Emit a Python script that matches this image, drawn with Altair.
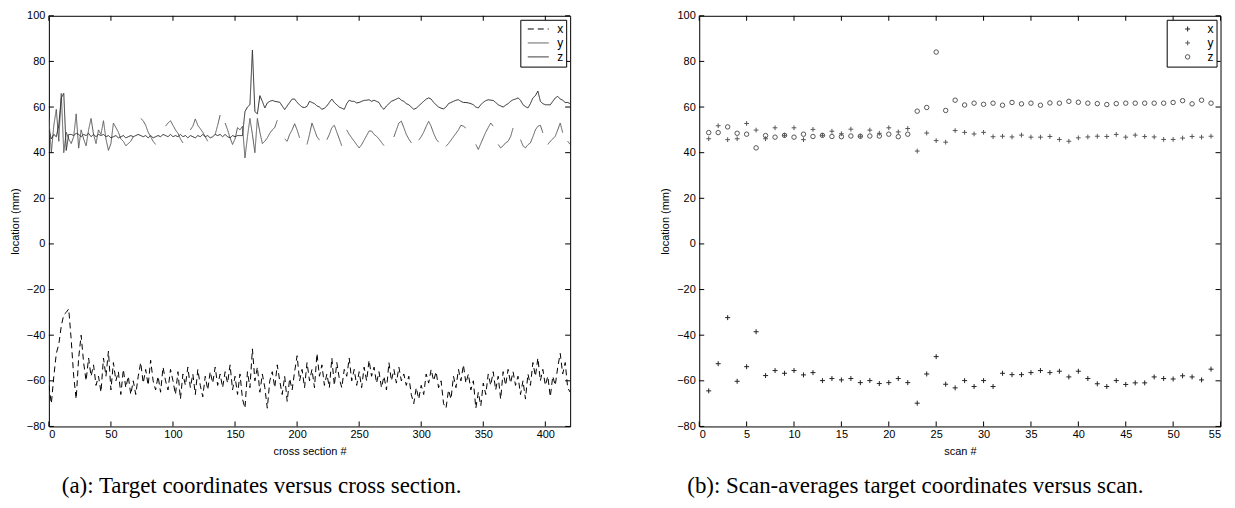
import altair as alt
import pandas as pd

# ---------------- data: panel (a), every 2nd cross section ----------------
CS = list(range(0, 421, 2))

X_CS = [
    -62, -70, -58, -48, -44, -36, -31, -30, -28.5, -42,
    -58, -68, -50, -40, -52, -60, -50, -58, -53, -62,
    -58, -65, -50, -58, -47, -64, -52, -60, -56, -66,
    -55, -63, -58, -66, -60, -66, -58, -52, -61, -55,
    -62, -51, -60, -64, -58, -65, -54, -60, -64, -55,
    -60, -66, -56, -68, -57, -62, -54, -63, -57, -66,
    -55, -62, -67, -58, -64, -56, -61, -54, -62, -57,
    -63, -56, -61, -53, -64, -58, -66, -57, -68, -72,
    -56, -63, -46, -60, -54, -65, -57, -63, -72, -60,
    -56, -63, -53, -60, -66, -58, -69, -59, -64, -56,
    -49, -60, -55, -63, -52, -60, -55, -63, -48, -58,
    -53, -62, -57, -63, -50, -62, -52, -59, -63, -55,
    -58, -50, -60, -55, -62, -56, -63, -54, -60, -51,
    -58, -54, -61, -56, -63, -58, -64, -52, -60, -55,
    -61, -54, -60, -57, -62, -58, -66, -70, -63, -68,
    -62, -66, -57, -61, -55, -60, -56, -63, -60, -70,
    -72, -64, -68, -58, -63, -55, -60, -53, -61, -57,
    -64, -60, -72, -65, -71, -61, -66, -57, -62, -56,
    -64, -58, -68, -56, -62, -55, -61, -56, -62, -58,
    -66, -60, -68, -57, -62, -52, -58, -50, -60, -55,
    -62, -58, -67, -58, -62, -54, -48, -57, -52, -63,
    -65,
]

Y_CS = [
    55, 40, 52, 59, 45, 66, 40, 49, 46, 44,
    47, 57, 42, 50, 46, 43, 50, 55, 48, 44,
    50, 48, 54, 46, 41, 44, 53, 51, 49, 46,
    45, 43, 44, 45, 47, None, None, 55, 54, 52,
    49, 47, 45, 43.6, None, None, None, 51.6, 53, 54,
    52, 50, 48.5, 46, 44.3, None, None, 50, 51.6, 54.8,
    52, 50.5, 49, 47, 45, None, None, 48, 52, 56.5,
    None, 53, 50, 46.5, 43.6, 46, 51, 50, 51.6, 37.7,
    47, 55, 48, 40, 55, 49, 44, 45, 46.5, 48.5,
    50, 51, 54.2, None, None, 46, 45, 48, 50, 52.7,
    50, 46.5, None, None, 43.6, 48, 53, 50, 47, 45.5,
    None, None, 45.7, 48, 51, 52, 49, 46, 43, None,
    50, 48, 46.5, 45, 43.5, 42.1, 43.5, 45.5, 47.5, 49.5,
    49.5, 48, 47.2, 46, 44.5, 43.1, None, None, None, 46.9,
    50, 53, 53.8, 51, 48, 46, 44.3, None, None, 45.5,
    47, 49, 51.5, 53.8, 51.5, 48.5, 46, 44.6, None, None,
    42.8, 44, 45.5, 47, 48.5, 50, 52, 51.6, 50.8, None,
    None, None, 43.6, 41.4, 44, 46.5, 49, 51, 53, 51.6,
    None, 43.6, 42.1, 43, 44.3, 45, 47, 50.8, None, None,
    45.7, 43, 42.1, 43.5, 44.3, 47, 50, 51.6, 52, 48.7,
    None, 43.6, 45, 46, 47.2, 50, 53, 48.7, None, 45,
    43.6,
]

Z_CS = [
    50, 46, 48, 47, 52, 64, 66, 41, 48, 48,
    47.5, 48.5, 48, 47, 48, 47.5, 48.5, 47, 48, 47,
    48, 47.5, 48, 47, 47.5, 46.5, 47, 47.5, 46.5, 47,
    47.5, 46.5, 47, 47.5, 47, 47.5, 48, 47.5, 47, 47.5,
    46.5, 47.5, 46.5, 47, 47.5, 47, 48, 47.5, 47, 48,
    47, 47.5, 47, 48, 47, 47.5, 46.5, 47.5, 47, 46.5,
    47.5, 47, 48, 47, 47.5, 46.5, 47, 48, 47.5, 48,
    47, 48, 47, 46.5, 47.5, 47, 47.5, 47.5, 47.5, 58,
    60, 61, 85, 58, 57, 65, 62.5, 59.6, 61.8, 62.5,
    62.9, 62.5, 62.3, 62.1, 60.5, 58.9, 60.5, 62, 63.5, 63.5,
    62, 61, 60, 59.8, 60.3, 62.5, 62, 61.5, 60.5, 60,
    59, 59.5, 60.5, 62, 63.5, 62, 61, 60, 59.5, 59,
    61.5, 63, 62.5, 62.5, 61.8, 62, 62.5, 62.9, 63, 63.2,
    62.5, 63, 62.5, 62, 60, 59, 60.5, 61.5, 62.5, 63,
    63.5, 64, 63, 62.5, 61.5, 61, 60, 59, 59.5, 60.5,
    61.5, 62.5, 63.5, 64, 63.5, 62, 61, 60, 59.5, 59.2,
    60, 61.5, 62, 62.5, 63, 63.2, 62.5, 62, 62, 61.8,
    61.5, 61, 60, 59.6, 61, 62.1, 62.8, 63.2, 63, 62.9,
    62, 61, 60.5, 60, 60.8, 61.5, 62.5, 63.2, 63.5, 64,
    63, 61, 60.2, 59.6, 61.5, 64, 65, 67, 62.5, 61.5,
    61, 61, 61, 62.5, 64, 64.7, 63.5, 63, 62, 62,
    61.5,
]

# ---------------- data: panel (b), scan averages ----------------
SCAN = list(range(1, 55))

X_SCAN = [
    -64.4, -52.5, -32.3, -60.2, -53.8, -38.5, -57.7, -55.5, -56.7, -55.5,
    -57.4, -56.4, -59.9, -59.0, -59.6, -59.0, -60.8, -59.9, -61.2, -60.8,
    -59.0, -60.8, -69.8, -57.0, -49.4, -61.5, -63.1, -59.9, -62.5, -59.9,
    -62.5, -56.7, -57.3, -57.3, -56.4, -55.5, -56.4, -55.8, -58.3, -55.8,
    -59.0, -61.3, -62.5, -59.9, -61.6, -60.9, -60.9, -58.3, -59.0, -59.2,
    -57.8, -58.3, -59.6, -54.9,
]
Y_SCAN = [
    46.1, 51.8, 45.7, 46.1, 52.8, 49.9, 46.1, 50.9, 47.6, 50.9,
    45.7, 50.2, 47.6, 49.4, 48.3, 50.3, 47.2, 49.9, 48.5, 50.9,
    49.1, 50.6, 40.7, 48.6, 45.3, 44.6, 49.7, 48.9, 48.2, 48.9,
    47.0, 47.2, 46.9, 47.7, 46.8, 46.8, 47.1, 45.8, 45.0, 46.5,
    46.9, 47.2, 47.1, 48.0, 46.8, 47.7, 47.1, 46.9, 45.8, 45.8,
    46.4, 47.1, 46.8, 47.2,
]
Z_SCAN = [
    48.8, 48.8, 51.3, 48.5, 48.1, 42.1, 47.5, 46.8, 47.6, 46.8,
    48.1, 47.1, 47.6, 47.1, 47.0, 47.3, 47.2, 47.3, 47.3, 48.1,
    47.0, 48.1, 58.2, 59.8, 84.1, 58.5, 63.0, 60.9, 61.7, 61.2,
    61.7, 60.8, 62.0, 61.4, 61.7, 60.8, 61.8, 61.7, 62.5, 62.1,
    61.7, 61.5, 61.1, 61.5, 61.7, 61.7, 61.7, 61.7, 61.7, 62.0,
    62.8, 61.4, 63.0, 61.7,
]

SERIES = ["x", "y", "z"]
CS_TICKS = [0, 50, 100, 150, 200, 250, 300, 350, 400]
SCAN_TICKS = [0, 5, 10, 15, 20, 25, 30, 35, 40, 45, 50, 55]
LOC_TICKS = [-80, -60, -40, -20, 0, 20, 40, 60, 80, 100]

# ---------------- styling ----------------
SANS = "Liberation Sans"
SERIF = "Liberation Serif"
W, H = 523, 412
TICK = 5
PLUS = "M-1,0L1,0M0,-1L0,1"

# long tables built from the arrays above
rows = []
for name, vals in zip(SERIES, (X_CS, Y_CS, Z_CS)):
    seg, gap = 0, False
    for c, v in zip(CS, vals):
        if v is None:
            gap = True
            continue
        if gap:
            seg += 1
            gap = False
        rows.append({"cs": c, "loc": v, "series": name, "seg": f"{name}{seg}"})
left_df = pd.DataFrame(rows)

rows = []
for name, vals in zip(SERIES, (X_SCAN, Y_SCAN, Z_SCAN)):
    for s, v in zip(SCAN, vals):
        rows.append({"scan": s, "loc": v, "series": name})
right_df = pd.DataFrame(rows)

y_scale = alt.Scale(domain=[-80, 100], nice=False, zero=False)
xs_left = alt.Scale(domain=[0, 420], nice=False, zero=False)
xs_right = alt.Scale(domain=[0, 55], nice=False, zero=False)

y_axis = alt.Axis(values=LOC_TICKS, title="location (mm)", labelPadding=4, titlePadding=6)
x_axis_left = alt.Axis(values=CS_TICKS, title="cross section #", labelPadding=2, titlePadding=6)
x_axis_right = alt.Axis(values=SCAN_TICKS, title="scan #", labelPadding=2, titlePadding=6)


def inward_ticks(x_scale, x_axis, xticks):
    xt = pd.DataFrame({"t": xticks})
    yt = pd.DataFrame({"t": LOC_TICKS})
    base_x = alt.Chart(xt).mark_rule(color="black", strokeWidth=1)
    base_y = alt.Chart(yt).mark_rule(color="black", strokeWidth=1)
    bottom = base_x.encode(x=alt.X("t:Q", scale=x_scale, axis=x_axis),
                           y=alt.value(H), y2=alt.value(H - TICK))
    top = base_x.encode(x=alt.X("t:Q", scale=x_scale, axis=x_axis),
                        y=alt.value(0), y2=alt.value(TICK))
    left = base_y.encode(y=alt.Y("t:Q", scale=y_scale, axis=y_axis),
                         x=alt.value(0), x2=alt.value(TICK))
    right = base_y.encode(y=alt.Y("t:Q", scale=y_scale, axis=y_axis),
                          x=alt.value(W), x2=alt.value(W - TICK))
    return [bottom, top, left, right]


legend_left = alt.Legend(
    title=None, orient="top-right", offset=4, padding=3, strokeColor="black",
    fillColor="white", symbolType="stroke", symbolSize=441, symbolStrokeWidth=1,
    symbolOffset=4, labelOffset=8, rowPadding=1, clipHeight=12.5,
    labelFont=SANS, labelFontSize=12, labelColor="black",
    labelExpr="datum.label + '  '",
)

lines = alt.Chart(left_df).mark_line(strokeWidth=1, clip=True).encode(
    x=alt.X("cs:Q", scale=xs_left, axis=x_axis_left),
    y=alt.Y("loc:Q", scale=y_scale, axis=y_axis),
    color=alt.Color("series:N", scale=alt.Scale(domain=SERIES, range=["#000000", "#5a5a5a", "#2a2a2a"]),
                    legend=legend_left),
    strokeDash=alt.StrokeDash("series:N", scale=alt.Scale(domain=SERIES, range=[[6, 4], [1, 0], [1, 0]]),
                              legend=legend_left),
    detail="seg:N",
    order="cs:Q",
)

left_panel = alt.layer(lines, *inward_ticks(xs_left, x_axis_left, CS_TICKS)).properties(
    width=W, height=H,
    title=alt.TitleParams("(a): Target coordinates versus cross section.", orient="bottom",
                          anchor="start", frame="group", dx=13, offset=19,
                          font=SERIF, fontSize=23, fontWeight="normal", color="black"),
)

legend_right = alt.Legend(
    title=None, orient="top-right", offset=4, padding=3, strokeColor="black",
    fillColor="white", symbolStrokeWidth=1, symbolOffset=12, labelOffset=14,
    rowPadding=1, clipHeight=12.5, labelFont=SANS, labelFontSize=12, labelColor="black",
    labelExpr="datum.label + '  '",
)

points = alt.Chart(right_df).mark_point(filled=False, strokeWidth=1, opacity=1).encode(
    x=alt.X("scan:Q", scale=xs_right, axis=x_axis_right),
    y=alt.Y("loc:Q", scale=y_scale, axis=y_axis),
    color=alt.Color("series:N", scale=alt.Scale(domain=SERIES, range=["#222222", "#555555", "#555555"]),
                    legend=legend_right),
    shape=alt.Shape("series:N", scale=alt.Scale(domain=SERIES, range=[PLUS, PLUS, "circle"]),
                    legend=legend_right),
    size=alt.Size("series:N", scale=alt.Scale(domain=SERIES, range=[25, 20, 16]),
                  legend=legend_right),
)

right_panel = alt.layer(points, *inward_ticks(xs_right, x_axis_right, SCAN_TICKS)).properties(
    width=W, height=H,
    title=alt.TitleParams("(b): Scan-averages target coordinates versus scan.", orient="bottom",
                          anchor="start", frame="group", dx=-12, offset=19,
                          font=SERIF, fontSize=23, fontWeight="normal", color="black"),
)

chart = alt.hconcat(left_panel, right_panel, spacing=87.5).resolve_scale(
    color="independent", shape="independent", size="independent", strokeDash="independent"
).properties(
    padding={"left": 0, "top": 0, "right": 5, "bottom": 5},
    background="white",
).configure_view(
    stroke="black", strokeWidth=1
).configure_axis(
    domain=False, grid=False, ticks=False,
    labelFont=SANS, labelFontSize=11, labelColor="black",
    titleFont=SANS, titleFontSize=11, titleFontWeight="normal", titleColor="black",
)

chart.save("out.html", embed_options={"renderer": "svg", "actions": False})
